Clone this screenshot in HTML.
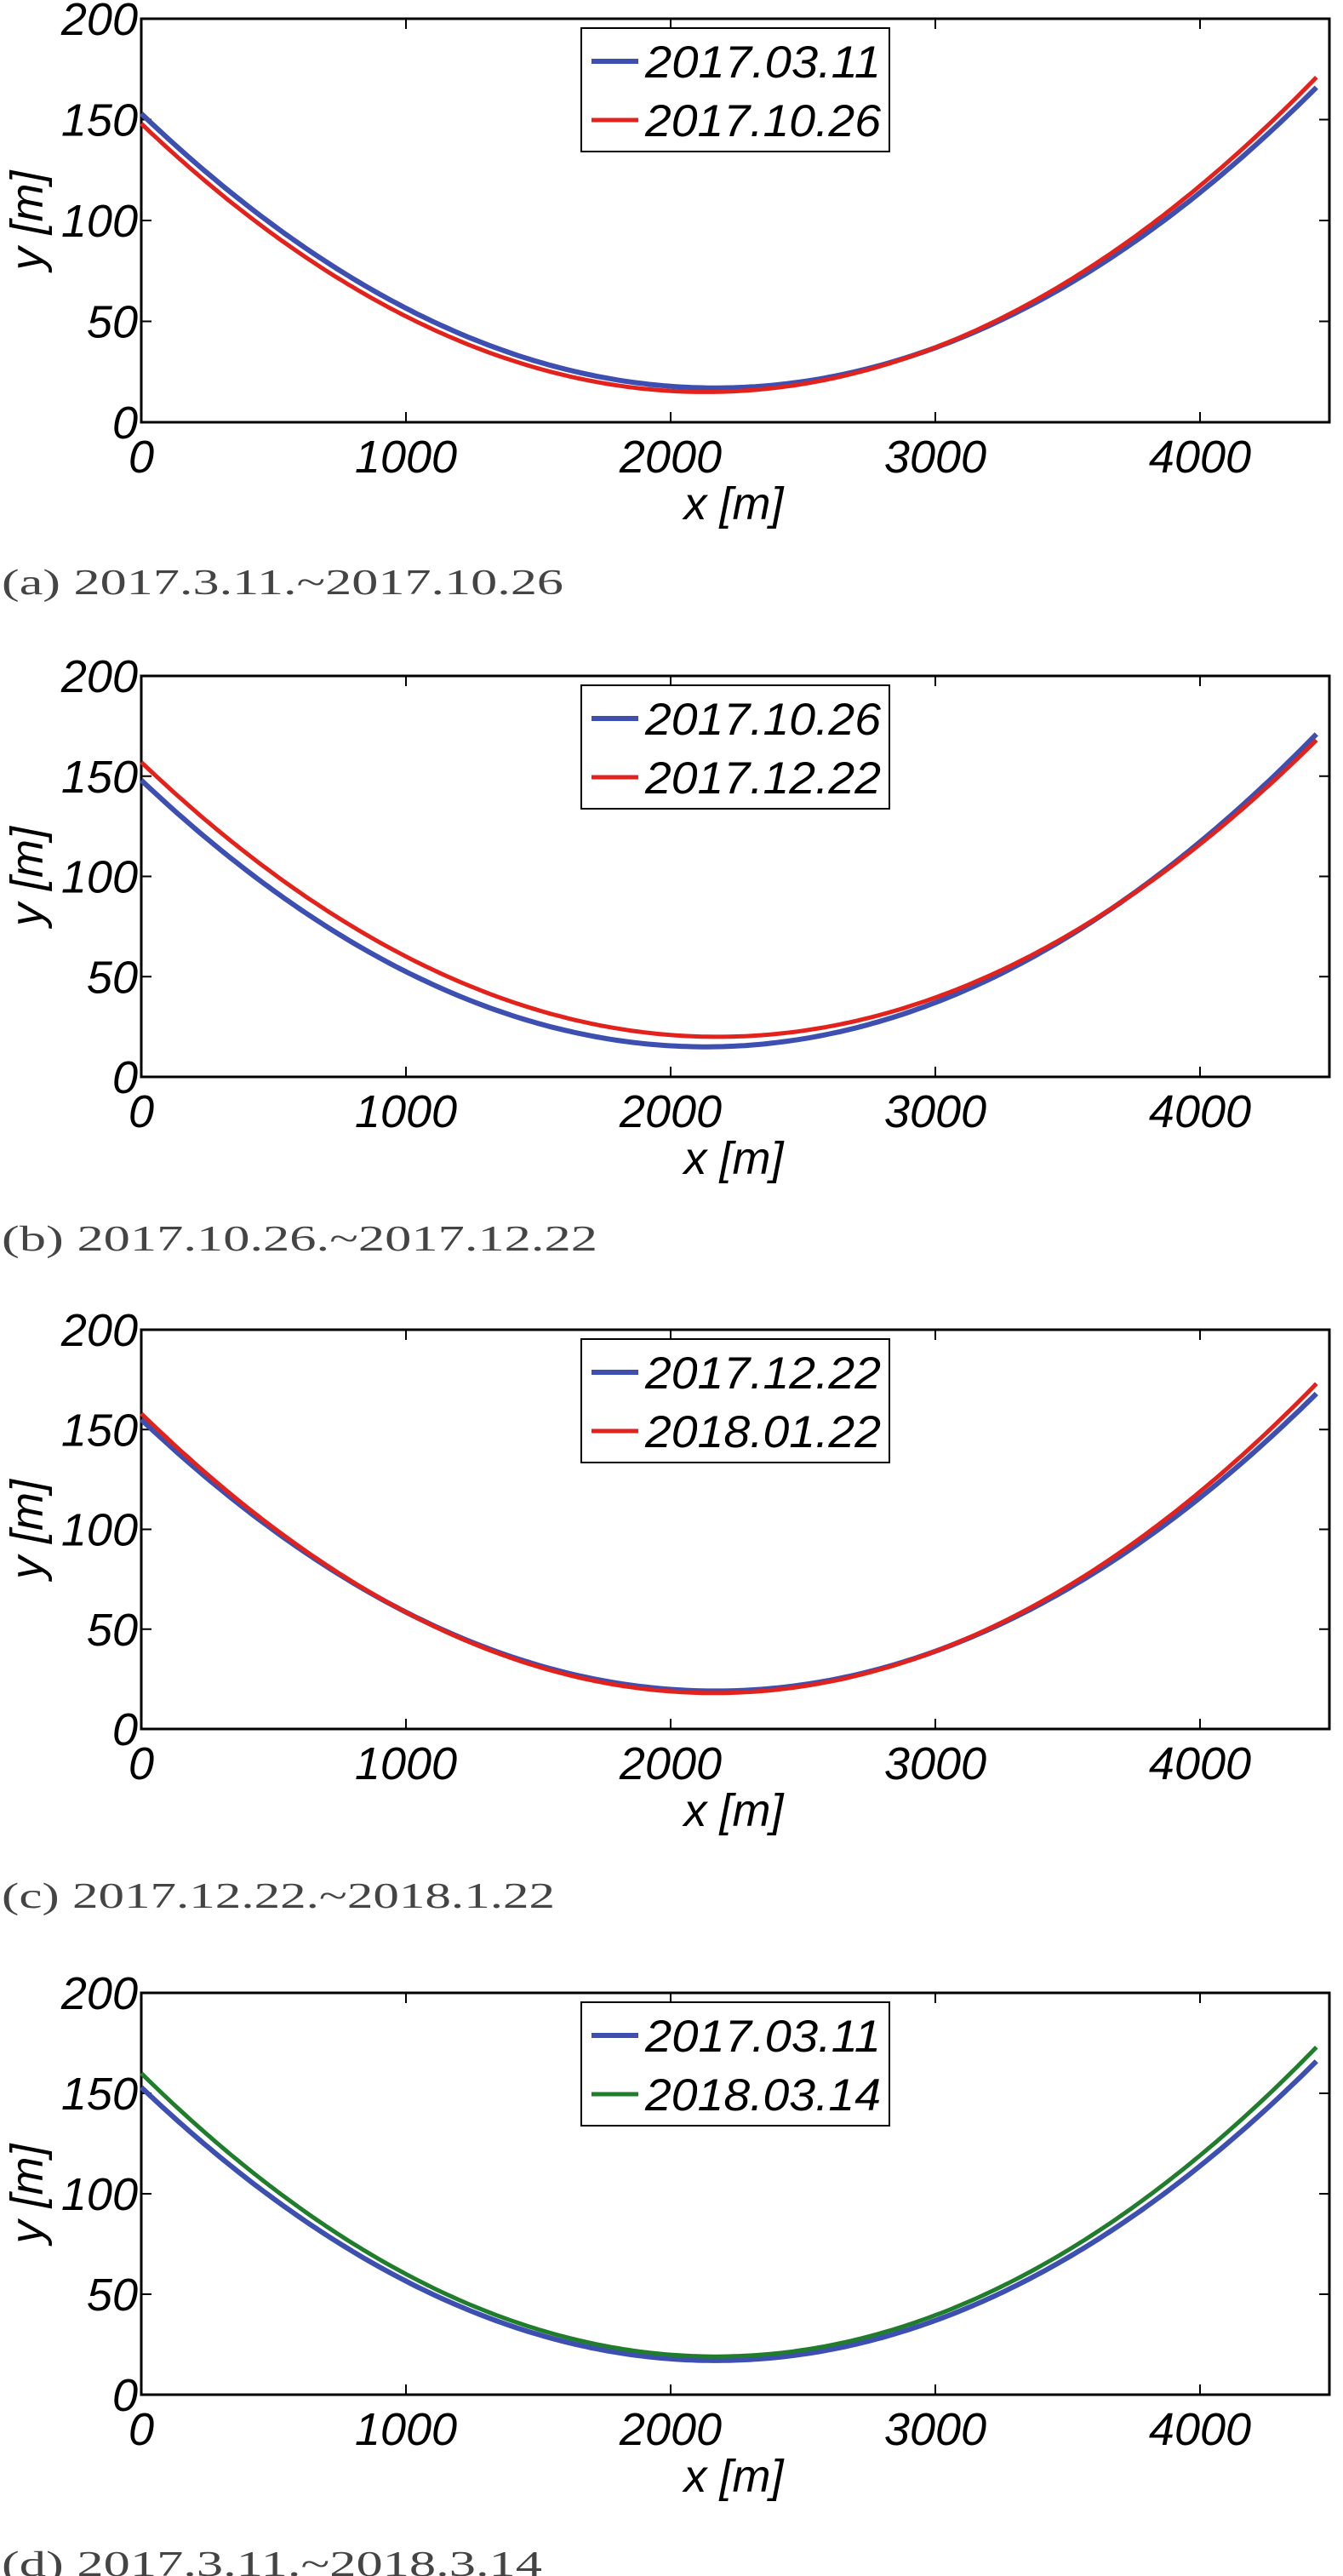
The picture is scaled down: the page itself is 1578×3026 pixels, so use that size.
<!DOCTYPE html>
<html><head><meta charset="utf-8"><style>
html,body{margin:0;padding:0;background:#fff;}
svg{display:block;}
</style></head><body>
<svg id="s" xmlns="http://www.w3.org/2000/svg" width="1578" height="3026" viewBox="0 0 1578 3026"></svg>
<script>
const panels=[
 {T:22,B:496,C:682,cap:"(a) 2017.3.11.~2017.10.26",s:[["2017.03.11","#3d4fb0",6,153,17,166],["2017.10.26","#e3221c",5,148,15,171]]},
 {T:794,B:1265,C:1453,cap:"(b) 2017.10.26.~2017.12.22",s:[["2017.10.26","#3d4fb0",6,148,15,171],["2017.12.22","#e3221c",5,157,20,168]]},
 {T:1562,B:2031,C:2225,cap:"(c) 2017.12.22.~2018.1.22",s:[["2017.12.22","#3d4fb0",6,155,19,168],["2018.01.22","#e3221c",5,158,18,173]]},
 {T:2341,B:2813,C:3010,cap:"(d) 2017.3.11.~2018.3.14",s:[["2017.03.11","#3d4fb0",6,153,17,166],["2018.03.14","#1f7d2c",5,160,19,173]]}
];
const capW=[660,700,650,635];
let h="";
const L=166,R=1562,xe=4440;
const fx=x=>L+x*0.311;
panels.forEach((p,i)=>{
 const T=p.T,B=p.B;
 const fy=y=>B-y*((B-T)/200);
 h+=`<rect x="${L}" y="${T}" width="${R-L}" height="${B-T}" fill="#fff" stroke="#000" stroke-width="3"/>`;
 [0,1000,2000,3000,4000].forEach(v=>{const X=fx(v);
  h+=`<line x1="${X}" y1="${B}" x2="${X}" y2="${B-12}" stroke="#000" stroke-width="2"/><line x1="${X}" y1="${T}" x2="${X}" y2="${T+12}" stroke="#000" stroke-width="2"/>`;
  h+=`<text x="${X}" y="${B+59}" text-anchor="middle" font-family="Liberation Sans, sans-serif" font-style="italic" font-size="54">${v}</text>`;});
 [0,50,100,150,200].forEach(v=>{const Y=fy(v);
  h+=`<line x1="${L}" y1="${Y}" x2="${L+12}" y2="${Y}" stroke="#000" stroke-width="2"/><line x1="${R}" y1="${Y}" x2="${R-12}" y2="${Y}" stroke="#000" stroke-width="2"/>`;
  h+=`<text x="${L-4}" y="${Y+19}" text-anchor="end" font-family="Liberation Sans, sans-serif" font-style="italic" font-size="54">${v}</text>`;});
 h+=`<text x="862" y="${B+114}" text-anchor="middle" font-family="Liberation Sans, sans-serif" font-style="italic" font-size="54">x [m]</text>`;
 h+=`<text transform="translate(50,${(T+B)/2}) rotate(-90)" text-anchor="middle" font-family="Liberation Sans, sans-serif" font-style="italic" font-size="54">y [m]</text>`;
 p.s.forEach(s=>{const[,c,w,y0,ym,ye]=s;
  const r=Math.sqrt((ye-ym)/(y0-ym));const xm=xe/(1+r);const a=(y0-ym)/(xm*xm);
  let d="";for(let x=0;x<=xe;x+=20){d+=(x?"L":"M")+fx(x).toFixed(1)+","+fy(ym+a*(x-xm)*(x-xm)).toFixed(1);}
  h+=`<path d="${d}" fill="none" stroke="${c}" stroke-width="${w}"/>`;});
 h+=`<rect x="683" y="${T+11}" width="362" height="145" fill="#fff" stroke="#000" stroke-width="2"/>`;
 p.s.forEach((s,k)=>{const Y=T+50+k*69;
  h+=`<line x1="695" y1="${Y}" x2="750" y2="${Y}" stroke="${s[1]}" stroke-width="${s[2]}"/>`;
  h+=`<text x="758" y="${Y+19}" font-family="Liberation Sans, sans-serif" font-style="italic" font-size="53" textLength="277" lengthAdjust="spacingAndGlyphs">${s[0]}</text>`;});
 h+=`<text x="2" y="${p.C+16}" font-family="Liberation Serif, Noto Serif CJK SC, serif" font-size="42" fill="#444" textLength="${capW[i]}" lengthAdjust="spacingAndGlyphs">${p.cap}</text>`;
});
document.getElementById("s").innerHTML=h;
</script>
</body></html>
